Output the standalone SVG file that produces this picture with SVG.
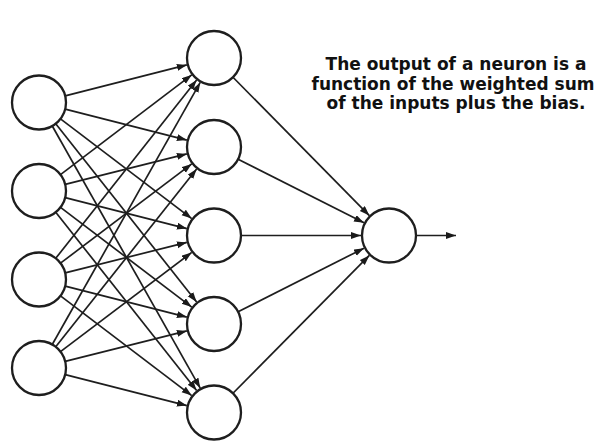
<svg xmlns="http://www.w3.org/2000/svg" width="596" height="441" viewBox="0 0 596 441">
<defs>
<marker id="ah" markerUnits="userSpaceOnUse" markerWidth="11" markerHeight="8" refX="10" refY="3.5" orient="auto">
<path d="M0,0 L10,3.5 L0,7 z" fill="#1a1a1a"/>
</marker>
<style>
.n{fill:#fff;stroke:#1e1e1e;stroke-width:2.3}
.e{stroke:#1e1e1e;stroke-width:1.7;fill:none;marker-end:url(#ah)}
.t{font-family:"DejaVu Sans",sans-serif;font-weight:bold;font-size:17px;fill:#111;text-anchor:middle}
</style>
</defs>
<rect width="596" height="441" fill="#fff"/>
<g id="connectors">
<path class="e" d="M65.17,95.85 L186.86,64.9"/>
<path class="e" d="M65.17,109.15 L186.86,140.1"/>
<path class="e" d="M60.5,118.84 L191.71,218.56"/>
<path class="e" d="M55.74,123.69 L196.64,302.03"/>
<path class="e" d="M52.27,126.01 L200.24,388.12"/>
<path class="e" d="M60.5,174.66 L191.71,74.94"/>
<path class="e" d="M65.17,184.35 L186.86,153.9"/>
<path class="e" d="M65.17,197.65 L186.86,228.6"/>
<path class="e" d="M60.5,207.34 L191.71,307.06"/>
<path class="e" d="M55.74,212.19 L196.64,390.53"/>
<path class="e" d="M55.74,258.31 L196.64,79.97"/>
<path class="e" d="M60.5,263.16 L191.71,163.94"/>
<path class="e" d="M65.17,272.85 L186.86,242.4"/>
<path class="e" d="M65.17,286.15 L186.86,317.1"/>
<path class="e" d="M60.5,295.84 L191.71,395.56"/>
<path class="e" d="M52.27,344.49 L200.24,82.38"/>
<path class="e" d="M55.74,346.81 L196.64,168.97"/>
<path class="e" d="M60.5,351.66 L191.71,252.44"/>
<path class="e" d="M65.17,361.35 L186.86,330.9"/>
<path class="e" d="M65.17,374.65 L186.86,405.6"/>
<path class="e" d="M232.96,77.23 L369.34,215.56"/>
<path class="e" d="M238.09,159.19 L364.01,222.86"/>
<path class="e" d="M241,235.5 L361,235.5"/>
<path class="e" d="M238.09,311.81 L364.01,248.14"/>
<path class="e" d="M232.96,393.27 L369.34,255.44"/>
<path class="e" d="M416,235.5 L456,235.5"/>
</g>
<g id="in1"><circle class="n" cx="39" cy="102.5" r="27"/></g>
<g id="in2"><circle class="n" cx="39" cy="191" r="27"/></g>
<g id="in3"><circle class="n" cx="39" cy="279.5" r="27"/></g>
<g id="in4"><circle class="n" cx="39" cy="368" r="27"/></g>
<g id="h1"><circle class="n" cx="214" cy="58" r="27"/></g>
<g id="h2"><circle class="n" cx="214" cy="147" r="27"/></g>
<g id="h3"><circle class="n" cx="214" cy="235.5" r="27"/></g>
<g id="h4"><circle class="n" cx="214" cy="324" r="27"/></g>
<g id="h5"><circle class="n" cx="214" cy="412.5" r="27"/></g>
<g id="out"><circle class="n" cx="389" cy="235.5" r="27"/></g>
<g id="caption">
<text class="t" x="456" y="70">The output of a neuron is a</text>
<text class="t" x="453" y="89.5">function of the weighted sum</text>
<text class="t" x="456" y="109">of the inputs plus the bias.</text>
</g>
</svg>
